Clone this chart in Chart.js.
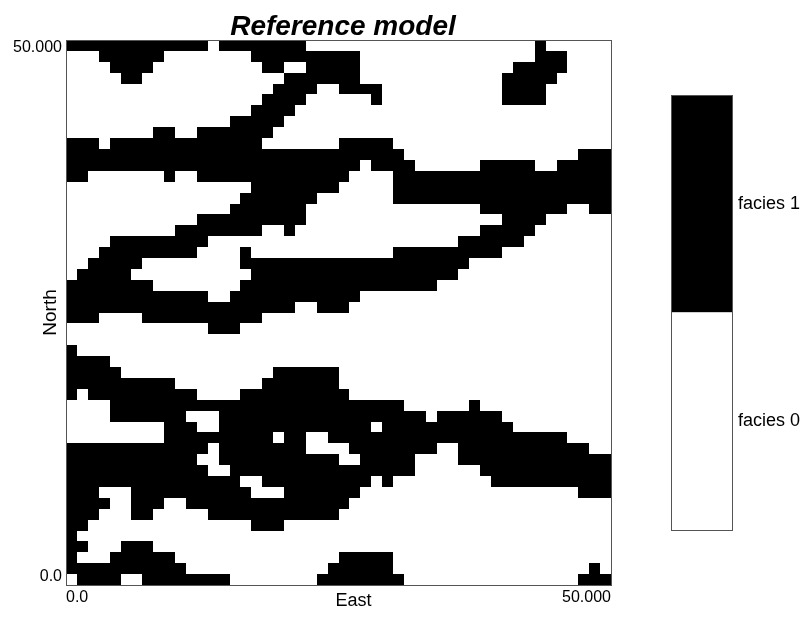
<!DOCTYPE html>
<html>
<head>
<meta charset="utf-8">
<script src="https://cdn.jsdelivr.net/npm/chart.js@4.4.1/dist/chart.umd.min.js"></script>
<style>
  html, body { margin: 0; padding: 0; background: #fff; }
  #wrap { position: relative; width: 812px; height: 619px; }
  #grid { position: absolute; left: 0; top: 0; }
  #key { position: absolute; left: 640px; top: 0; }
</style>
</head>
<body>
<div id="wrap">
  <canvas id="grid" width="812" height="619"></canvas>
  <canvas id="key" width="172" height="619"></canvas>
</div>
<script>
// facies grid, north row first, 1 = facies 1 (black), 0 = facies 0 (white)
const rows = [
  '1111111111 1110111111 1100000000 0000000000 0001000000',
  '0001111110 0000000111 1111111000 0000000000 0001110000',
  '0000111100 0000000011 0011111000 0000000000 0111110000',
  '0000011000 0000000000 1111111000 0000000000 1111100000',
  '0000000000 0000000001 1110011110 0000000000 1111000000',
  '0000000000 0000000011 1100000010 0000000000 1111000000',
  '0000000000 0000000111 1000000000 0000000000 0000000000',
  '0000000000 0000011111 0000000000 0000000000 0000000000',
  '0000000011 0011111110 0000000000 0000000000 0000000000',
  '1110111111 1111111100 0000011111 0000000000 0000000000',
  '1111111111 1111111111 1111111111 1000000000 0000000111',
  '1111111111 1111111111 1111111011 1100000011 1110011111',
  '1100000001 0011111111 1111110000 1111111111 1111111111',
  '0000000000 0000000111 1111100000 1111111111 1111111111',
  '0000000000 0000001111 1110000000 1111111111 1111111111',
  '0000000000 0000011111 1100000000 0000000011 1111110011',
  '0000000000 0011111111 1100000000 0000000000 1111000000',
  '0000000000 1111111100 1000000000 0000000011 1110000000',
  '0000111111 1110000000 0000000000 0000001111 1100000000',
  '0001111111 1100001000 0000000000 1111111111 0000000000',
  '0011111000 0000001111 1111111111 1111111000 0000000000',
  '0111110000 0000000111 1111111111 1111110000 0000000000',
  '1111111100 0000001111 1111111111 1111000000 0000000000',
  '1111111111 1110011111 1111111000 0000000000 0000000000',
  '1111111111 1111111111 1001110000 0000000000 0000000000',
  '1110000111 1111111100 0000000000 0000000000 0000000000',
  '0000000000 0001110000 0000000000 0000000000 0000000000',
  '0000000000 0000000000 0000000000 0000000000 0000000000',
  '1000000000 0000000000 0000000000 0000000000 0000000000',
  '1111000000 0000000000 0000000000 0000000000 0000000000',
  '1111100000 0000000001 1111100000 0000000000 0000000000',
  '1111111111 0000000011 1111100000 0000000000 0000000000',
  '1011111111 1100001111 1111110000 0000000000 0000000000',
  '0000111111 1111111111 1111111111 1000000100 0000000000',
  '0000111111 1000111111 1111111111 1110111111 0000000000',
  '0000000001 1100111111 1111111101 1111111111 1000000000',
  '0000000001 1111111110 1100111111 1111111111 1111110000',
  '1111111111 1110111111 1100001111 1111001111 1111111100',
  '1111111111 1100111111 1111100111 1100001111 1111111111',
  '1111111111 1110011111 1111111111 1100000011 1111111111',
  '1111111111 1111110011 1111111101 0000000001 1111111111',
  '1110001111 1111111000 1111111000 0000000000 0000000111',
  '1111001110 0111111111 1111110000 0000000000 0000000000',
  '1110001100 0001111111 1111100000 0000000000 0000000000',
  '1100000000 0000000111 0000000000 0000000000 0000000000',
  '1000000000 0000000000 0000000000 0000000000 0000000000',
  '1100011100 0000000000 0000000000 0000000000 0000000000',
  '1000111111 0000000000 0000011111 0000000000 0000000000',
  '1111111111 1000000000 0000111111 0000000000 0000000010',
  '0111100111 1111100000 0001111111 1000000000 0000000111'
]

const xTicks = [0, 50]
const xTickLabels = ['0.0', '50.000']
const yTicks = [0, 50]
const yTickLabels = ['0.0', '50.000']
const xAxisTitle = 'East'
const yAxisTitle = 'North'

const faciesValues = [0, 1]
const faciesLabels = ['facies 0', 'facies 1']
const faciesColors = ['#ffffff', '#000000']

Chart.defaults.font.family = "'Liberation Sans', Arial, Helvetica, sans-serif"
Chart.defaults.color = '#000'

// black cells as points at the lower-left corner of each cell
const cells = []
rows.forEach((row, r) => {
  row.replace(/ /g, '').split('').forEach((ch, c) => {
    if (ch === '1') cells.push({ x: c, y: rows.length - 1 - r })
  })
})

// fill each cell from the scales, rounded so neighbours meet without seams
const cellPlugin = {
  id: 'cells',
  beforeDatasetsDraw(chart) {
    const { ctx, chartArea: a } = chart
    const xs = chart.scales.x
    const ys = chart.scales.y
    ctx.save()
    ctx.fillStyle = faciesColors[0]
    ctx.fillRect(a.left, a.top, a.width, a.height)
    ctx.fillStyle = faciesColors[1]
    chart.data.datasets[0].data.forEach(p => {
      const x0 = Math.round(xs.getPixelForValue(p.x))
      const x1 = Math.round(xs.getPixelForValue(p.x + 1))
      const y0 = Math.round(ys.getPixelForValue(p.y + 1))
      const y1 = Math.round(ys.getPixelForValue(p.y))
      ctx.fillRect(x0, y0, x1 - x0, y1 - y0)
    })
    ctx.restore()
  }
}

const framePlugin = {
  id: 'frame',
  afterDatasetsDraw(chart) {
    const { ctx, chartArea: a } = chart
    ctx.save()
    ctx.strokeStyle = '#555'
    ctx.lineWidth = 1
    ctx.strokeRect(a.left + 0.5, a.top + 0.5, a.width, a.height)
    ctx.restore()
  }
}

// y tick labels sit inside the axis ends (bottom one above 0, top one below 50)
const innerYLabels = {
  id: 'innerYLabels',
  beforeDraw(chart) {
    const items = chart.scales.y.getLabelItems()
    if (!items.length) return
    items[0].options.textBaseline = 'bottom'
    items[items.length - 1].options.textBaseline = 'top'
  }
}

// the East label sits a little right of the plot centre in the original
const eastTitle = {
  id: 'eastTitle',
  afterDraw(chart) {
    const { ctx, chartArea: a } = chart
    const xs = chart.scales.x
    ctx.save()
    ctx.font = "18px 'Liberation Sans', Arial, sans-serif"
    ctx.fillStyle = '#000'
    ctx.textAlign = 'center'
    ctx.textBaseline = 'middle'
    ctx.fillText(xAxisTitle, (a.left + a.right) / 2 + 15, xs.bottom - 18)
    ctx.restore()
  }
}

new Chart(document.getElementById('grid'), {
  type: 'scatter',
  data: {
    datasets: [{
      label: 'facies 1',
      data: cells,
      pointRadius: 0,
      showLine: false
    }]
  },
  options: {
    responsive: false,
    animation: false,
    events: [],
    layout: { padding: { left: 0, right: 126, top: 0, bottom: 0 } },
    plugins: {
      legend: { display: false },
      tooltip: { enabled: false },
      title: {
        display: true,
        text: 'Reference model',
        font: { size: 28, weight: 'bold', style: 'italic', lineHeight: '24px' },
        padding: { top: 15, bottom: 1 }
      }
    },
    scales: {
      x: {
        type: 'linear',
        min: 0,
        max: 50,
        afterBuildTicks: s => { s.ticks = xTicks.map(v => ({ value: v })) },
        afterFit: s => { s.height = 34 },
        ticks: {
          callback: (v, i) => xTickLabels[i],
          align: 'inner',
          padding: 3,
          maxRotation: 0,
          autoSkip: false,
          font: { size: 16 }
        },
        grid: { display: false, drawTicks: false },
        border: { display: false },
        title: { display: false }
      },
      y: {
        type: 'linear',
        min: 0,
        max: 50,
        afterBuildTicks: s => { s.ticks = yTicks.map(v => ({ value: v })) },
        afterFit: s => { s.width = 66 },
        ticks: {
          callback: (v, i) => yTickLabels[i],
          padding: 4,
          autoSkip: false,
          font: { size: 16 }
        },
        grid: { display: false, drawTicks: false },
        border: { display: false },
        title: { display: true, text: yAxisTitle, font: { size: 19 }, padding: { top: 39, bottom: 0 } }
      },
      // empty spacer on the right so the title centres over the plot
      spacer: {
        type: 'linear',
        position: 'right',
        display: true,
        afterFit: s => { s.width = 75 },
        ticks: { display: false },
        grid: { display: false, drawTicks: false },
        border: { display: false }
      }
    }
  },
  plugins: [cellPlugin, framePlugin, innerYLabels, eastTitle]
})

// colour key: one stacked bar, facies 0 below facies 1
new Chart(document.getElementById('key'), {
  type: 'bar',
  data: {
    labels: [''],
    datasets: faciesValues.map((v, i) => ({
      label: faciesLabels[i],
      data: [1],
      backgroundColor: faciesColors[i],
      borderWidth: 0,
      barPercentage: 1,
      categoryPercentage: 1
    }))
  },
  options: {
    responsive: false,
    animation: false,
    events: [],
    layout: { padding: { left: 31, top: 95, bottom: 89, right: 0 } },
    plugins: {
      legend: { display: false },
      tooltip: { enabled: false },
      title: { display: false }
    },
    scales: {
      x: { display: false, stacked: true },
      y: {
        stacked: true,
        position: 'right',
        min: 0,
        max: faciesValues.length,
        afterBuildTicks: s => { s.ticks = faciesValues.map(v => ({ value: v + 0.5 })) },
        afterFit: s => { s.width = 80 },
        ticks: {
          callback: (v, i) => faciesLabels[i],
          padding: 6,
          font: { size: 18 }
        },
        grid: { display: false, drawTicks: false },
        border: { display: false }
      }
    }
  },
  plugins: [framePlugin]
})
</script>
</body>
</html>
